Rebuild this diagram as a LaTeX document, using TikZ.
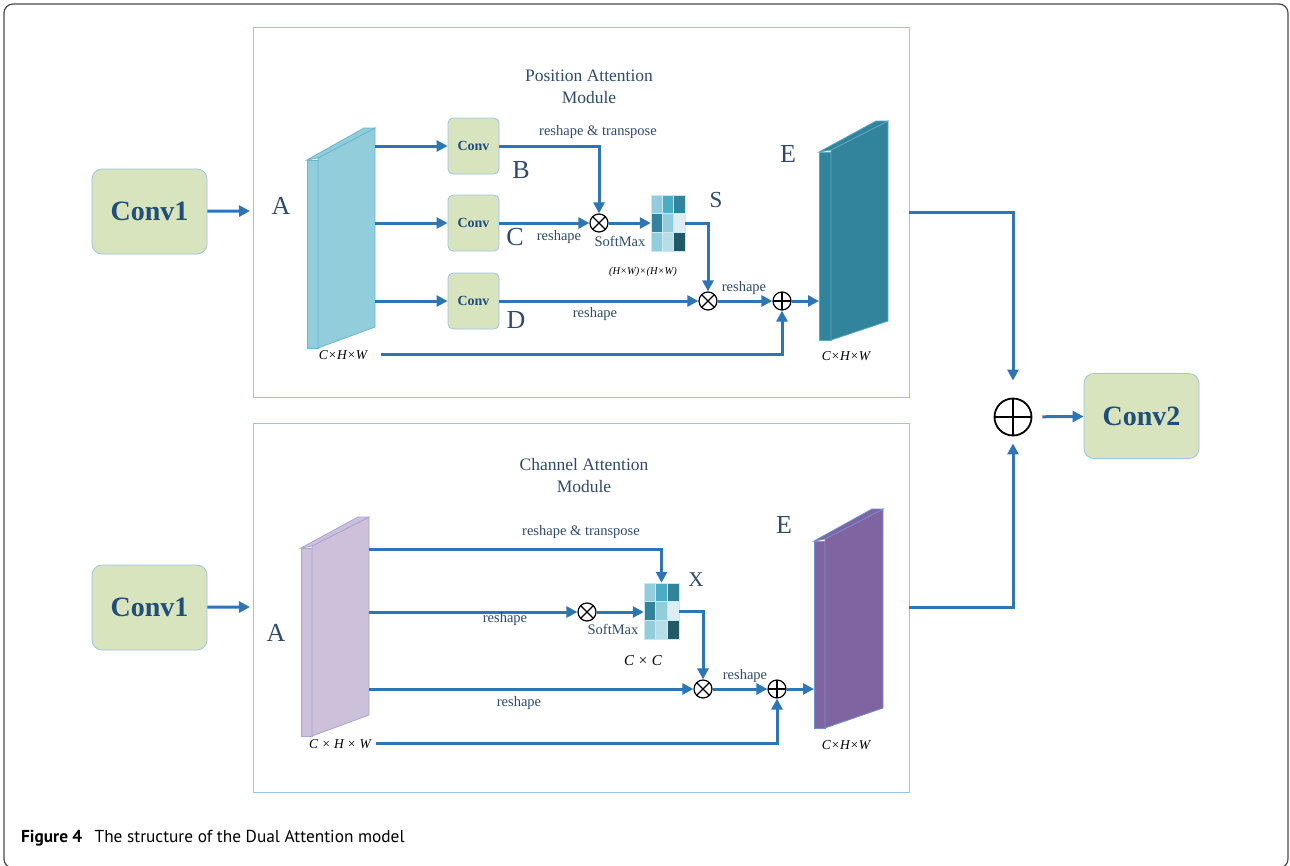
\documentclass[tikz,border=0pt]{standalone}
\usepackage{fontspec}
\setmainfont{Liberation Serif}
\newfontfamily\capfont{PT Sans}
\usetikzlibrary{arrows.meta,calc}
\definecolor{arr}{HTML}{2E75B6}
\definecolor{modborder}{HTML}{9DC3E6}
\definecolor{convfill}{HTML}{D7E4BD}
\definecolor{convborder}{HTML}{9DC3E6}
\definecolor{convtext}{HTML}{1F4E79}
\definecolor{lbl}{HTML}{2F4A6D}
\definecolor{frame}{HTML}{4A4A4A}
\definecolor{mA}{HTML}{92CDDC}
\definecolor{mB}{HTML}{4BACC6}
\definecolor{mC}{HTML}{31849B}
\definecolor{mD}{HTML}{DBEEF3}
\definecolor{mE}{HTML}{B7DDE8}
\definecolor{mF}{HTML}{215967}
\definecolor{slabA}{HTML}{92CDDC}
\definecolor{slabAe}{HTML}{6BB6CF}
\definecolor{slabE}{HTML}{31849B}
\definecolor{slabEe}{HTML}{5AA8C0}
\definecolor{slabP}{HTML}{CCC0DA}
\definecolor{slabPe}{HTML}{A7A6D6}
\definecolor{slabQ}{HTML}{8064A2}
\definecolor{slabQe}{HTML}{7090D0}
% slab: x0 x1 x2 ytL ybL ytR ybR fill edge
\newcommand\drawslab[9]{%
  \filldraw[fill=#8,draw=#9,line width=0.8pt] (#1,#4) rectangle (#2,#5);
  \filldraw[fill=#8,draw=#9,line width=0.8pt] (#2,#4-2) -- (#3,#6) -- (#3,#7) -- (#2,#5) -- cycle;
  \filldraw[fill=#8,draw=#9,line width=0.8pt] (#1,#4) -- ({#3-(#2-#1)},#6) -- (#3,#6) -- (#2,#4-2) -- cycle;
}
% matrix cells: x0 y0 w h
\newcommand\drawmat[4]{%
  \foreach \c [count=\i from 0] in {mA,mB,mC,mC,mA,mD,mA,mE,mF}{%
    \pgfmathtruncatemacro\col{mod(\i,3)}%
    \pgfmathtruncatemacro\row{div(\i,3)}%
    \filldraw[fill=\c,draw=mE!70!white,line width=0.4pt]
      ({#1+\col*#3},{#2+\row*#4}) rectangle ++(#3,#4);
  }%
}
\begin{document}
\begin{tikzpicture}[x=1pt,y=-1pt,
  flow/.style={draw=arr,line width=3pt,-{Triangle[length=11pt,width=11pt]}},
  convbig/.style={draw=convborder,fill=convfill,rounded corners=10pt,line width=0.8pt,
    minimum width=115pt,minimum height=85pt,inner sep=0pt,text=convtext,
    font=\fontsize{28}{30}\selectfont\bfseries},
  convsmall/.style={draw=convborder,fill=convfill,rounded corners=5pt,line width=0.8pt,
    minimum width=51pt,minimum height=56pt,inner sep=0pt,text=convtext,
    font=\fontsize{14}{16}\selectfont\bfseries},
  modbox/.style={draw=modborder,line width=1pt},
  big/.style={text=lbl,font=\fontsize{26}{28}\selectfont,inner sep=0pt},
  small/.style={text=lbl,font=\fontsize{14.5}{16}\selectfont,inner sep=0pt},
  title/.style={text=lbl,font=\fontsize{17.5}{22}\selectfont,align=center,inner sep=0pt},
  dim/.style={text=black,font=\fontsize{13.5}{15}\selectfont\itshape,inner sep=0pt},
  otimes/.style={circle,draw=black,line width=1.2pt,minimum size=18pt,inner sep=0pt,
    path picture={\draw[line width=1.1pt]
      (path picture bounding box.north west) -- (path picture bounding box.south east)
      (path picture bounding box.north east) -- (path picture bounding box.south west);}},
  oplus/.style={circle,draw=black,line width=1.2pt,minimum size=18pt,inner sep=0pt,
    path picture={\draw[line width=1.1pt]
      (path picture bounding box.north) -- (path picture bounding box.south)
      (path picture bounding box.east) -- (path picture bounding box.west);}},
  bigplus/.style={circle,draw=black,line width=1.8pt,minimum size=37pt,inner sep=0pt,
    path picture={\draw[line width=1.6pt]
      (path picture bounding box.north) -- (path picture bounding box.south)
      (path picture bounding box.east) -- (path picture bounding box.west);}},
  matnode/.style={inner sep=0pt,minimum width=#1,minimum height=56pt}
]
\useasboundingbox (0,0) rectangle (1290,865);
% outer frame
\draw[frame,line width=1.2pt,rounded corners=9pt] (4,4) rectangle (1288,868);

% module boxes
\node[modbox,minimum width=656pt,minimum height=370pt,inner sep=0pt] (pam) at (581,212) {};
\node[modbox,minimum width=656pt,minimum height=369pt,inner sep=0pt] (cam) at (581,607.5) {};

% ================= TOP: Position Attention Module =================
\node[title] (pamtitle) at (589,87) {Position Attention\\Module};

\node[convbig] (conv1t) at (149.5,211.5) {Conv1};
\coordinate (Ain) at (250,211);
\draw[flow] (conv1t) -- (Ain);
\node[big] (Alt) at (281,206) {A};

\drawslab{307}{318}{375}{160}{348}{128}{327}{slabA}{slabAe}
\coordinate (A1) at (375,146);
\coordinate (A2) at (375,223);
\coordinate (A3) at (375,301);

\node[convsmall] (cB) at (473.5,146) {Conv};
\node[convsmall] (cC) at (473.5,223) {Conv};
\node[convsmall] (cD) at (473.5,301) {Conv};
\draw[flow] (A1) -- (cB);
\draw[flow] (A2) -- (cC);
\draw[flow] (A3) -- (cD);

\node[big] (Blbl) at (521,170) {B};
\node[big] (Clbl) at (515,237) {C};
\node[big] (Dlbl) at (516,320) {D};

\node[otimes] (ot1) at (599,223) {};
\node[small] (rt1) at (598,132) {reshape \& transpose};
\node[small] (rs1) at (559,237) {reshape};
\draw[flow] (cB) -| (ot1);
\draw[flow] (cC) -- (ot1);
\node[small] (sm1) at (620,241) {SoftMax};

\node[matnode=34pt] (S) at (668,223) {};
\drawmat{651}{195}{11.333}{18.667}
\draw[flow] (ot1) -- (S);
\node[big,font=\fontsize{23}{25}\selectfont] (Slbl) at (716,200) {S};
\node[dim,font=\fontsize{10.5}{12}\selectfont\itshape] (hw) at (643,272) {(H×W)×(H×W)};

\node[otimes] (ot2) at (708,301) {};
\draw[flow] (S.east) -| (ot2);
\draw[flow] (cD) -- (ot2);
\node[small] (rs2) at (595,314) {reshape};

\node[oplus] (op1) at (782,301) {};
\draw[flow] (ot2) -- (op1);
\node[small] (rs3) at (744,288) {reshape};

\drawslab{819}{831}{888}{152}{340}{121}{321}{slabE}{slabEe}
\coordinate (Ein) at (819,301);
\draw[flow] (op1) -- (Ein);
\node[big] (Elbl) at (788,154) {E};
\node[dim] (dimE1) at (846,356) {C×H×W};

\node[dim] (dimA1) at (343,355) {C×H×W};
\coordinate (skip1) at (381,354);
\draw[flow] (skip1) -| (op1);

% ================= BOTTOM: Channel Attention Module =================
\node[title] (camtitle) at (584,476) {Channel Attention\\Module};

\node[convbig] (conv1b) at (149.5,607.5) {Conv1};
\coordinate (Bin) at (250,607);
\draw[flow] (conv1b) -- (Bin);
\node[big] (Albl2) at (276,633) {A};

\drawslab{301}{312}{369}{548}{736}{517}{715}{slabP}{slabPe}
\coordinate (P1) at (369,549);
\coordinate (P2) at (369,612);
\coordinate (P3) at (369,689);

\node[matnode=35pt] (X) at (661.5,611) {};
\drawmat{644}{583}{11.667}{18.667}
\node[small] (rt2) at (581,532) {reshape \& transpose};
\draw[flow] (P1) -| (X);
\node[big,font=\fontsize{21}{23}\selectfont] (Xlbl) at (696,580) {X};

\node[otimes] (ot3) at (587,612) {};
\draw[flow] (P2) -- (ot3);
\node[small] (rs4) at (505,619) {reshape};
\draw[flow] (ot3) -- (X.west |- ot3);
\node[small] (sm2) at (613,629) {SoftMax};
\node[dim,font=\fontsize{15}{17}\selectfont\itshape] (cc) at (643,661) {C × C};

\node[otimes] (ot4) at (703,689) {};
\draw[flow] (X.east) -| (ot4);
\draw[flow] (P3) -- (ot4);
\node[small] (rs5) at (519,703) {reshape};

\node[oplus] (op2) at (777,689) {};
\draw[flow] (ot4) -- (op2);
\node[small] (rs6) at (745,676) {reshape};

\drawslab{814}{825}{883}{541}{728}{509}{708}{slabQ}{slabQe}
\coordinate (Qin) at (814,689);
\draw[flow] (op2) -- (Qin);
\node[big] (Elbl2) at (784,525) {E};
\node[dim] (dimE2) at (846,745) {C×H×W};

\node[dim] (dimA2) at (340,744) {C × H × W};
\coordinate (skip2) at (376,743);
\draw[flow] (skip2) -| (op2);

% ================= RIGHT =================
\node[bigplus] (bp) at (1013,417) {};
\node[convbig] (conv2) at (1141.5,416) {Conv2};
\coordinate (Eout1) at (909,212);
\coordinate (Eout2) at (909,607);
\draw[flow,shorten >=17pt] (Eout1) -| (bp);
\draw[flow,shorten >=7pt] (Eout2) -| (bp);
\draw[flow,shorten <=10pt] (bp) -- (conv2);

% caption
\node[anchor=west,inner sep=0pt,font=\capfont\fontsize{17.3}{19}\selectfont] (cap) at (21,838)
  {\textbf{Figure 4}\hspace{0.45em} The structure of the Dual Attention model};
\end{tikzpicture}
\end{document}
